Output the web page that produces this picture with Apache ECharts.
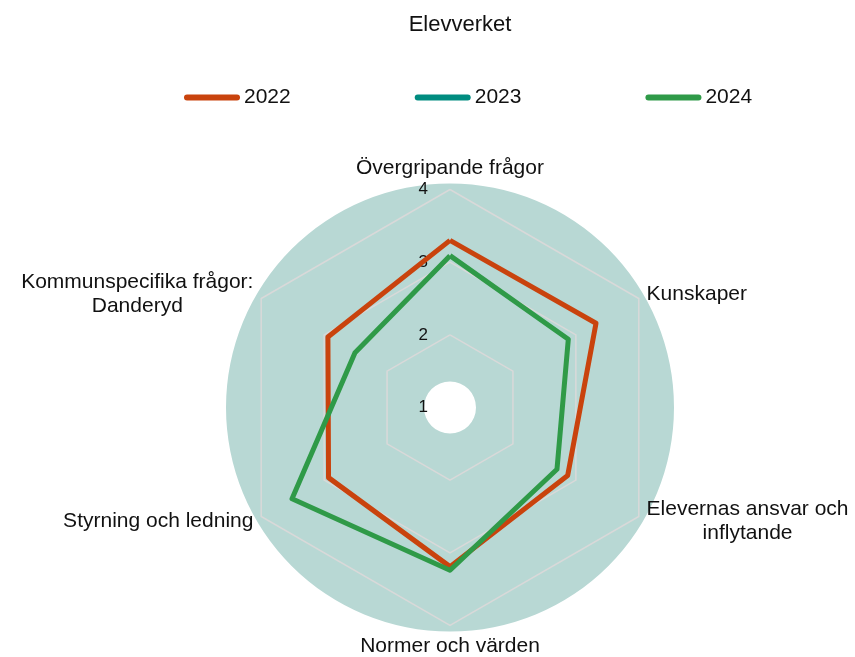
<!DOCTYPE html>
<html>
<head>
<meta charset="utf-8">
<script src="https://cdn.jsdelivr.net/npm/echarts@6/dist/echarts.min.js"></script>
<style>
  html, body { margin: 0; padding: 0; background: #fff; }
  #chart { width: 855px; height: 657px; }
</style>
</head>
<body>
<div id="chart"></div>
<script>
// radar axes, in ECharts order (top first, then counter-clockwise)
const axisNames = [
  "Övergripande frågor",
  "Kommunspecifika frågor:\nDanderyd",
  "Styrning och ledning",
  "Normer och värden",
  "Elevernas ansvar och\ninflytande",
  "Kunskaper"
];
const years = ["2022", "2023", "2024"];
const values2022 = [3.30, 2.94, 2.93, 3.19, 2.87, 3.32];
const values2023 = ["-", "-", "-", "-", "-", "-"];
const values2024 = [3.09, 2.51, 3.51, 3.24, 2.70, 2.88];
const colors = ["#c9430d", "#008c80", "#2f9a48"];

const font = "Liberation Sans, Arial, sans-serif";

let chart = echarts.init(document.getElementById("chart"));

let option = {
  title: {
    text: "Elevverket",
    left: 455,
    textAlign: "center",
    top: 9,
    textStyle: { fontFamily: font, fontSize: 22, fontWeight: "normal", color: "#111" }
  },
  legend: {
    data: years,
    left: 179,
    top: 82,
    itemWidth: 56,
    itemHeight: 6,
    itemGap: 124,
    icon: "path://M3,0 H53 A3,3 0 0 1 53,6 H3 A3,3 0 0 1 3,0 Z",
    textStyle: { fontFamily: font, fontSize: 21, color: "#111", padding: [0, 0, 0, -1] }
  },
  radar: [
    {
      // circular plot background with white centre hole
      center: [450, 407.5],
      radius: [26, 224],
      shape: "circle",
      splitNumber: 1,
      indicator: axisNames.map(() => ({ name: "", min: 0, max: 1 })),
      axisName: { show: false },
      axisLine: { show: false },
      axisTick: { show: false },
      axisLabel: { show: false },
      splitLine: { show: false },
      splitArea: { show: true, areaStyle: { color: ["#b8d8d4"] } }
    },
    {
      center: [450, 407.5],
      radius: 218,
      shape: "polygon",
      splitNumber: 3,
      nameGap: 9,
      indicator: axisNames.map((n, i) => {
        let ind = { name: n, min: 1, max: 4 };
        if (i === 0) {
          ind.axisLabel = { show: true };
        }
        return ind;
      }),
      axisName: {
        fontFamily: font,
        fontSize: 21,
        color: "#111",
        formatter: function (name) {
          return name.split("\n").map(s => "{a|" + s + "}").join("\n");
        },
        rich: {
          a: { align: "center", fontFamily: font, fontSize: 21, color: "#111", lineHeight: 24 }
        }
      },
      axisLine: { show: false },
      axisTick: { show: false },
      axisLabel: {
        show: false,
        fontFamily: font,
        fontSize: 17,
        color: "#111",
        margin: 22
      },
      splitLine: { show: true, lineStyle: { color: "#d9d9d9", width: 1.5 } },
      splitArea: { show: false }
    }
  ],
  series: [
    {
      name: "2022",
      type: "radar",
      radarIndex: 1,
      symbol: "none",
      lineStyle: { width: 5, color: colors[0] },
      itemStyle: { color: colors[0] },
      data: [{ name: "2022", value: values2022 }]
    },
    {
      name: "2023",
      type: "radar",
      radarIndex: 1,
      symbol: "none",
      lineStyle: { width: 5, color: colors[1] },
      itemStyle: { color: colors[1] },
      data: [{ name: "2023", value: values2023 }]
    },
    {
      name: "2024",
      type: "radar",
      radarIndex: 1,
      symbol: "none",
      lineStyle: { width: 5, color: colors[2] },
      itemStyle: { color: colors[2] },
      data: [{ name: "2024", value: values2024 }]
    }
  ]
};

chart.setOption(option);
</script>
</body>
</html>
